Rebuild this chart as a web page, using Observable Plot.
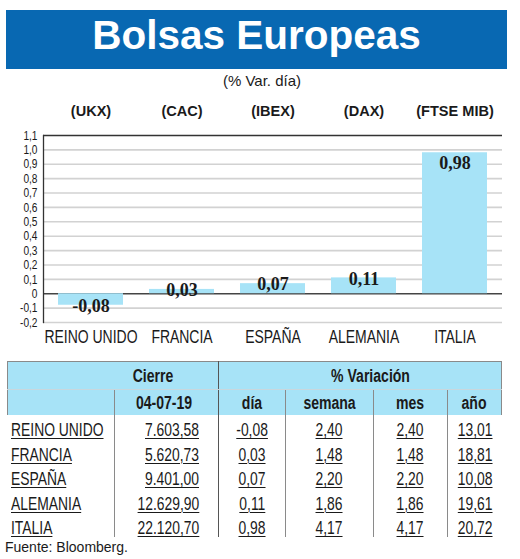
<!DOCTYPE html>
<html><head><meta charset="utf-8">
<script src="https://cdn.jsdelivr.net/npm/d3@7"></script>
<script src="https://cdn.jsdelivr.net/npm/@observablehq/plot@0.6"></script>
<style>
body{margin:0;background:#fff;width:520px;height:559px;position:relative;overflow:hidden;font-family:"Liberation Sans",Arial,sans-serif;color:#1a1a1a;}
#banner{position:absolute;left:6px;top:10px;width:501px;height:59px;background:#0868b2;color:#fff;font:bold 40.5px/51px "Liberation Sans",Arial,sans-serif;text-align:center;}
#sub{position:absolute;left:0;width:524px;top:72px;text-align:center;font-size:15px;line-height:17px;}
#chart{position:absolute;left:0;top:95px;}
#tbl{position:absolute;left:7px;top:361px;border-collapse:collapse;table-layout:fixed;width:494px;font-family:"Liberation Sans",Arial,sans-serif;font-size:18.5px;}
#tbl td{padding:0;white-space:nowrap;}
#tbl td span{display:inline-block;transform:scaleX(0.75);transform-origin:center;}
#tbl tr.h td{background:#a7e3f7;font-weight:bold;font-size:18px;text-align:center;vertical-align:middle;line-height:20px;}
#tbl tr.h td span{transform:scaleX(0.78);}
#tbl tr.h1 td{height:27px;border-top:1px solid #8a8a8a;border-bottom:1px solid #c9d7dd;}
#tbl tr.h2 td{height:25px;}
#tbl tr.d td{height:23.4px;vertical-align:bottom;line-height:17px;text-align:center;padding-bottom:1px;}
#tbl tr.d td span{text-decoration:underline;text-decoration-thickness:1px;text-underline-offset:2px;}
#tbl td.l{text-align:left !important;padding-left:3px;}
#tbl td.l span{transform-origin:left;}
#tbl td.r{text-align:right !important;}
#tbl td.r span{transform-origin:right;}
#src{position:absolute;left:5px;top:539px;font-size:14px;line-height:16px;}
</style></head>
<body>
<div id="banner">Bolsas Europeas</div>
<div id="sub">(% Var. día)</div>
<div id="chart"></div>
<table id="tbl"></table>
<div id="src">Fuente: Bloomberg.</div>
<script>
const paises = ["REINO UNIDO", "FRANCIA", "ESPAÑA", "ALEMANIA", "ITALIA"];
const tickers = ["(UKX)", "(CAC)", "(IBEX)", "(DAX)", "(FTSE MIB)"];
const cierre = [7603.58, 5620.73, 9401.00, 12629.90, 22120.70];
const dia = [-0.08, 0.03, 0.07, 0.11, 0.98];
const semana = [2.40, 1.48, 2.20, 1.86, 4.17];
const mes = [2.40, 1.48, 2.20, 1.86, 4.17];
const ano = [13.01, 18.81, 10.08, 19.61, 20.72];
const yTicks = [-0.2, -0.1, 0, 0.1, 0.2, 0.3, 0.4, 0.5, 0.6, 0.7, 0.8, 0.9, 1.0, 1.1];
const cierreFecha = "04-07-19";

const sans = '"Liberation Sans",Arial,sans-serif';
const serif = '"Liberation Serif","Times New Roman",serif';
const loc = d3.formatLocale({decimal: ",", thousands: ".", grouping: [3], currency: ["", ""], minus: "-"});
const f2 = loc.format(",.2f");
const f1 = loc.format(".1f");
const tickFmt = d => d === 0 ? "0" : f1(d);

const data = paises.map((p, i) => ({pais: p, ticker: tickers[i], dia: dia[i]}));

const chart = Plot.plot({
  width: 520, height: 255,
  marginTop: 40, marginBottom: 28, marginLeft: 43, marginRight: 18,
  x: {domain: paises, paddingInner: 0.29, paddingOuter: 0.145, axis: null},
  y: {domain: [-0.2, 1.1], axis: null},
  style: {background: "transparent", overflow: "visible", color: "#1a1a1a"},
  marks: [
    Plot.ruleY(yTicks.filter(d => d !== 0 && d !== 1.1), {stroke: "#d2d2d2", strokeWidth: 1.6}),
    Plot.ruleY([0], {stroke: "#444", strokeWidth: 1.5}),
    Plot.ruleY([1.1], {stroke: "#333", strokeWidth: 1.5}),
    Plot.barY(data, {x: "pais", y: "dia", fill: "#a7e3f7"}),
    Plot.axisY({ticks: yTicks, tickSize: 0, tickPadding: 6, tickFormat: tickFmt, fontSize: 13, fontFamily: sans, label: null}),
    Plot.frame({anchor: "left", stroke: "#333", strokeWidth: 1.3}),
    Plot.text(data.filter(d => d.dia < 0.5), {x: "pais", y: "dia", text: d => f2(d.dia), dy: 1, fontSize: 18, fontWeight: "bold", fontFamily: serif, fill: "#1a1a1a"}),
    Plot.text(data.filter(d => d.dia >= 0.5), {x: "pais", y: "dia", text: d => f2(d.dia), lineAnchor: "top", dy: 3, fontSize: 18, fontWeight: "bold", fontFamily: serif, fill: "#1a1a1a"}),
    Plot.text(data, {x: "pais", text: "ticker", frameAnchor: "top", lineAnchor: "middle", dy: -24, fontSize: 15, fontWeight: "bold", fontFamily: sans, fill: "#1a1a1a"}),
    Plot.text(data, {x: "pais", text: "pais", frameAnchor: "bottom", lineAnchor: "middle", dy: 15, fontSize: 18.5, fontFamily: sans, fill: "#1a1a1a"})
  ]
});
// condensed look: horizontally compress chosen labels around their own anchor point
function squeeze(labels, s) {
  d3.select(chart).selectAll("text").filter(function() { return labels.includes(this.textContent); }).each(function() {
    const x = +(this.getAttribute("x") || 0);
    const t = this.getAttribute("transform") || "";
    this.setAttribute("transform", `${t} translate(${x},0) scale(${s},1) translate(${-x},0)`);
  });
}
squeeze(paises, 0.755);
squeeze(yTicks.map(tickFmt), 0.78);
squeeze(tickers, 0.97);
document.getElementById("chart").appendChild(chart);

// table
const tbl = d3.select("#tbl");
const widths = [107, 104, 67, 88, 74, 54];
const cg = tbl.append("colgroup");
widths.forEach(w => cg.append("col").style("width", w + "px"));
const h1 = tbl.append("tr").attr("class", "h h1");
h1.append("td").attr("colspan", 2).style("padding-left", "81px")
  .style("border-left", "1px solid #8a8a8a").style("border-right", "1.5px solid #555")
  .append("span").text("Cierre");
h1.append("td").attr("colspan", 4).style("padding-left", "21px").style("border-right", "1px solid #8a8a8a")
  .append("span").text("% Variación");
const h2 = tbl.append("tr").attr("class", "h h2");
const h2labels = ["", cierreFecha, "día", "semana", "mes", "año"];
h2labels.forEach((t, j) => {
  const td = h2.append("td");
  td.append("span").text(t);
  if (j === 0) td.style("border-left", "1px solid #8a8a8a");
  if (j === 1) td.style("padding-right", "4px");
  td.style("border-right", j === 1 ? "1.5px solid #555" : "1px solid #8a8a8a");
});
paises.forEach((p, i) => {
  const tr = tbl.append("tr").attr("class", "d");
  const vals = [p, f2(cierre[i]), f2(dia[i]), f2(semana[i]), f2(mes[i]), f2(ano[i])];
  vals.forEach((v, j) => {
    const td = tr.append("td");
    td.append("span").text(v);
    if (j === 0) td.attr("class", "l");
    if (j === 1) td.attr("class", "r").style("padding-right", "19px");
    if (j < 5) td.style("border-right", j === 1 ? "1.5px solid #555" : "1px solid #8a8a8a");
  });
});
</script>
</body></html>
